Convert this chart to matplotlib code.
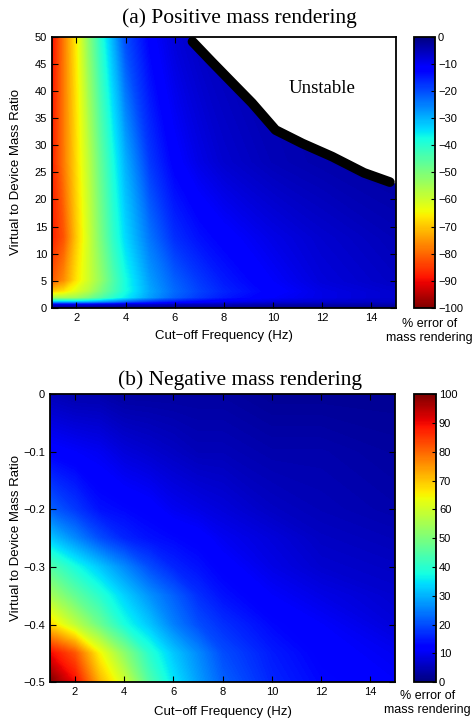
import matplotlib
matplotlib.use('Agg')
import matplotlib.pyplot as plt
import numpy as np

sans_font  = ['Liberation Sans', 'DejaVu Sans']
serif_font = ['Liberation Serif', 'DejaVu Serif']

# Positive virtual mass: % error of mass rendering
pos_freq  = [1, 1.5, 2, 2.5, 3, 3.5, 4, 5, 6, 7, 8, 10, 12, 15]
pos_ratio = [0, 0.5, 1, 1.8, 3, 5, 13, 27, 50]
pos_error = [
	[-2, -2, -2, -2, -2, -2, -2, -2, -2, -2, -2, -2, -2, -2],
	[-8, -8, -8, -8, -7, -7, -6, -6, -5, -5, -5, -4, -4, -4],
	[-30, -30, -30, -29, -27, -25, -22, -17, -14, -12, -10, -8, -7, -6],
	[-55, -55, -54, -50, -45, -40, -36, -28, -22, -18, -15, -11, -9, -7],
	[-70, -67, -62, -57, -50, -44, -38, -29, -23, -19, -16, -12, -9, -7],
	[-82, -76, -67, -60, -53, -45, -38, -28, -22, -18, -15, -11, -8, -6],
	[-88, -82, -70, -60, -50, -41, -34, -24, -17, -14, -12, -9, -7, -5],
	[-88, -78, -68, -58, -47, -38, -30, -18, -12, -9, -7, -5, -4, -3],
	[-90, -78, -66, -52, -40, -30, -20, -12, -8, -6, -5, -4, -3, -3],
]

# Stability boundary for positive mass rendering
bound_freq  = [6.72, 7.5, 8.34, 9.14, 10.1, 11.2, 12.4, 13.7, 14.75]
bound_ratio = [49.1, 45.4, 41.5, 37.8, 32.8, 30.3, 27.9, 24.9, 23.2]

# Negative virtual mass: % error of mass rendering
neg_freq  = [1, 2, 3, 4, 5, 6, 7, 8, 10, 12, 15]
neg_ratio = [-0.5, -0.45, -0.4, -0.35, -0.3, -0.25, -0.2, -0.1, 0]
neg_error = [
	[100, 90, 72, 60, 45, 35, 28, 22, 16, 13, 11],
	[90, 82, 65, 52, 40, 32, 26, 20, 15, 12, 10],
	[68, 58, 48, 38, 32, 25, 20, 17, 13, 11, 8],
	[55, 47, 40, 33, 27, 22, 17, 14, 11, 9, 7],
	[45, 38, 32, 26, 20, 16, 14, 12, 9, 7, 6],
	[32, 26, 20, 16, 14, 13, 12, 10, 8, 6, 5],
	[22, 18, 14, 13, 12, 10, 9, 8, 6, 5, 4],
	[12, 11, 10, 8, 7, 6, 5, 5, 4, 4, 3],
	[5, 4, 4, 3, 3, 3, 3, 3, 2, 2, 2],
]

freq_label  = 'Cut\u2212off Frequency (Hz)'
ratio_label = 'Virtual to Device Mass Ratio'
cbar_label  = '% error of\nmass rendering'

def style_axes(ax):
	ax.tick_params(direction='in', top=True, right=True, length=4, width=0.8, labelsize=8)
	for label in ax.get_xticklabels() + ax.get_yticklabels():
		label.set_family(sans_font)
	for spine in ax.spines.values():
		spine.set_linewidth(1.3)

def style_cbar(cax):
	cax.tick_params(direction='in', length=3, width=0.8, labelsize=8, pad=2)
	for label in cax.get_yticklabels():
		label.set_family(sans_font)

fig = plt.figure(figsize=(4.72, 7.21), dpi=100)

# (a) positive mass rendering
ax1  = fig.add_axes([0.110, 0.573, 0.729, 0.376])
cax1 = fig.add_axes([0.877, 0.573, 0.045, 0.376])
levels1 = np.linspace(-100, 0, 257)
cs1 = ax1.contourf(pos_freq, pos_ratio, pos_error, levels=levels1, cmap='jet_r', vmin=-100, vmax=0)
# Blank out the unstable region above the boundary
fill_x = bound_freq + [15.0]
fill_y = bound_ratio + [bound_ratio[-1]]
ax1.fill_between(fill_x, fill_y, 50, color='white', zorder=2)
ax1.plot(bound_freq, bound_ratio, color='black', linewidth=7, solid_capstyle='round', zorder=3)
ax1.text(11.97, 40.4, 'Unstable', family=serif_font, fontsize=13.5, ha='center', va='center')
ax1.set_xlim(1, 15)
ax1.set_ylim(0, 50)
ax1.set_xticks(np.arange(2, 15, 2))
ax1.set_yticks(np.arange(0, 51, 5))
ax1.set_xlabel(freq_label, family=sans_font, fontsize=9.5)
ax1.set_ylabel(ratio_label, family=sans_font, fontsize=9.5)
ax1.xaxis.set_label_coords(0.5, -0.08)
ax1.yaxis.set_label_coords(-0.087, 0.5)
style_axes(ax1)
cb1 = fig.colorbar(cs1, cax=cax1, ticks=np.arange(-100, 1, 10))
cb1.outline.set_linewidth(1.3)
style_cbar(cax1)
fig.text(0.508, 0.975, '(a) Positive mass rendering', family=serif_font, fontsize=15.5, ha='center', va='center')
fig.text(0.910, 0.541, cbar_label, family=sans_font, fontsize=9, ha='center', va='center', linespacing=1.25)

# (b) negative mass rendering
ax2  = fig.add_axes([0.106, 0.054, 0.731, 0.399])
cax2 = fig.add_axes([0.877, 0.054, 0.047, 0.399])
levels2 = np.linspace(0, 100, 257)
cs2 = ax2.contourf(neg_freq, neg_ratio, neg_error, levels=levels2, cmap='jet', vmin=0, vmax=100)
ax2.set_xlim(1, 15)
ax2.set_ylim(-0.5, 0)
ax2.set_xticks(np.arange(2, 15, 2))
ax2.set_yticks(np.arange(-0.5, 0.01, 0.1))
ax2.set_yticklabels(['\u22120.5', '\u22120.4', '\u22120.3', '\u22120.2', '\u22120.1', '0'])
ax2.set_xlabel(freq_label, family=sans_font, fontsize=9.5)
ax2.set_ylabel(ratio_label, family=sans_font, fontsize=9.5)
ax2.xaxis.set_label_coords(0.5, -0.083)
ax2.yaxis.set_label_coords(-0.081, 0.5)
style_axes(ax2)
cb2 = fig.colorbar(cs2, cax=cax2, ticks=np.arange(0, 101, 10))
cb2.outline.set_linewidth(1.3)
style_cbar(cax2)
fig.text(0.508, 0.473, '(b) Negative mass rendering', family=serif_font, fontsize=15.5, ha='center', va='center')
fig.text(0.906, 0.025, cbar_label, family=sans_font, fontsize=9, ha='center', va='center', linespacing=1.25)

# Save figure to system
fig.savefig('out.png', dpi=100)
plt.close(fig)
